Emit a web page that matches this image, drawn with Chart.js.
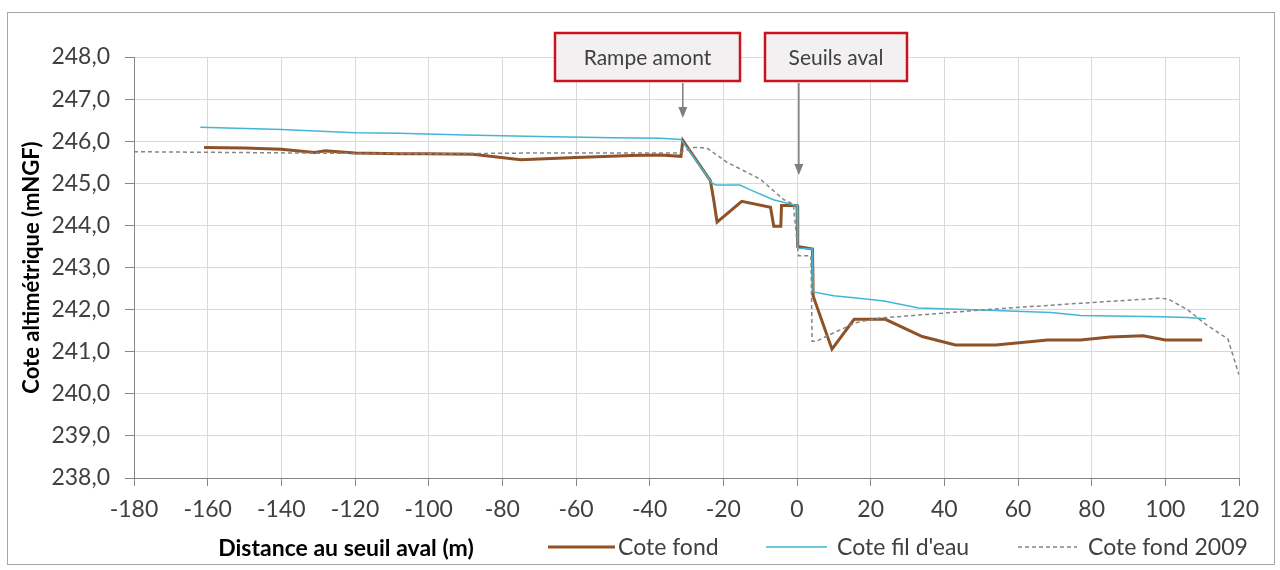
<!DOCTYPE html>
<html>
<head>
<meta charset="utf-8">
<script src="https://cdn.jsdelivr.net/npm/chart.js@4.4.1/dist/chart.umd.min.js"></script>
<style>
  html, body { margin: 0; padding: 0; background: #fff; }
  #wrap { width: 1280px; height: 570px; }
</style>
</head>
<body>
<div id="wrap"><canvas id="chart" width="1280" height="570"></canvas></div>
<script>
// profil en long
const fondX = [-161, -150, -140, -131, -128, -120, -108, -100, -88, -75, -60, -45, -37, -31.5, -31, -23.5, -22.6, -21.7, -15, -7.2, -6.3, -4.4, -4.2, 0, 0.2, 4.2, 4.4, 9.5, 15.5, 24, 34, 43, 54, 61, 68, 77, 85, 94, 100, 110];
const fondY = [245.85, 245.84, 245.81, 245.73, 245.77, 245.72, 245.70, 245.70, 245.69, 245.56, 245.61, 245.66, 245.67, 245.64, 246.02, 245.06, 244.6, 244.08, 244.57, 244.43, 243.98, 243.98, 244.47, 244.47, 243.5, 243.44, 242.32, 241.06, 241.77, 241.77, 241.36, 241.16, 241.16, 241.22, 241.28, 241.28, 241.35, 241.38, 241.28, 241.28];

const eauX = [-162, -140, -120, -108, -90, -70, -50, -37, -31.5, -23, -22, -15.5, -12.8, -6.4, -1, 0, 0.2, 4.2, 4.4, 10, 20, 24, 33, 50, 69, 77, 99, 106, 111];
const eauY = [246.33, 246.28, 246.2, 246.19, 246.15, 246.11, 246.08, 246.07, 246.04, 245.0, 244.96, 244.96, 244.85, 244.61, 244.49, 244.48, 243.46, 243.44, 242.42, 242.33, 242.24, 242.2, 242.04, 241.99, 241.93, 241.86, 241.83, 241.81, 241.78];

const fond2009X = [-180, -150, -120, -100, -70, -32, -28, -24.5, -19, -10, -3.7, -1, 0.4, 3.8, 4.1, 5.3, 10, 16, 22.5, 36, 50, 63, 77, 91, 99, 101, 106, 111, 117, 120];
const fond2009Y = [245.75, 245.73, 245.71, 245.7, 245.72, 245.72, 245.85, 245.84, 245.5, 245.1, 244.62, 244.5, 243.28, 243.28, 241.25, 241.25, 241.45, 241.69, 241.8, 241.89, 241.99, 242.07, 242.15, 242.23, 242.27, 242.24, 242.0, 241.65, 241.3, 240.45];

const seriesNames = ['Cote fond', "Cote fil d'eau", 'Cote fond 2009'];
const noteLabels = ['Rampe amont', 'Seuils aval'];
const noteAtX = [-31, 0.5];
const noteTipY = [246.55, 245.2];

const FONT = 'Lato, "Open Sans", sans-serif';
const BROWN = '#8f5228';
const BLUE = '#41b6d6';
const GREY = '#858585';

const toPoints = (xs, ys) => xs.map((x, i) => ({ x: x, y: ys[i] }));

// cadre exterieur
const framePlugin = {
  id: 'frame',
  beforeDraw(chart) {
    const ctx = chart.ctx;
    ctx.save();
    ctx.fillStyle = '#fff';
    ctx.fillRect(0, 0, chart.width, chart.height);
    ctx.strokeStyle = '#a6a6a6';
    ctx.lineWidth = 1;
    ctx.strokeRect(7.5, 12.5, 1267, 552);
    ctx.restore();
  }
};

// etiquettes + fleches, titre X et legende sur la meme ligne
const extrasPlugin = {
  id: 'extras',
  afterDraw(chart) {
    const ctx = chart.ctx;
    const xs = chart.scales.x, ys = chart.scales.y;
    const boxes = [[555, 33, 185, 48], [765, 33, 142, 48]];
    ctx.save();
    noteLabels.forEach((txt, i) => {
      const b = boxes[i];
      const ax = xs.getPixelForValue(noteAtX[i]);
      const tip = ys.getPixelForValue(noteTipY[i]);
      ctx.strokeStyle = '#7f7f7f';
      ctx.fillStyle = '#7f7f7f';
      ctx.lineWidth = 1.5;
      ctx.beginPath();
      ctx.moveTo(ax, b[1] + b[3] + 2);
      ctx.lineTo(ax, tip - 9);
      ctx.stroke();
      ctx.beginPath();
      ctx.moveTo(ax - 4.5, tip - 11);
      ctx.lineTo(ax + 4.5, tip - 11);
      ctx.lineTo(ax, tip);
      ctx.closePath();
      ctx.fill();

      ctx.fillStyle = '#f2f0f0';
      ctx.fillRect(b[0], b[1], b[2], b[3]);
      ctx.strokeStyle = '#c8141e';
      ctx.lineWidth = 2.5;
      ctx.strokeRect(b[0], b[1], b[2], b[3]);
      ctx.fillStyle = '#404040';
      ctx.font = '21px ' + FONT;
      ctx.textAlign = 'center';
      ctx.textBaseline = 'middle';
      ctx.fillText(txt, b[0] + b[2] / 2, b[1] + b[3] / 2 + 1);
    });

    ctx.fillStyle = '#000';
    ctx.font = 'bold 23px ' + FONT;
    ctx.textAlign = 'center';
    ctx.textBaseline = 'middle';
    ctx.fillText('Distance au seuil aval (m)', 346, 549);

    const ds = chart.data.datasets;
    const items = [[548, 615, 618], [766, 827, 837], [1018, 1077, 1088]];
    items.forEach((it, i) => {
      const d = ds[i];
      ctx.strokeStyle = d.borderColor;
      ctx.lineWidth = d.borderWidth;
      ctx.setLineDash(d.borderDash || []);
      ctx.beginPath();
      ctx.moveTo(it[0], 547);
      ctx.lineTo(it[1], 547);
      ctx.stroke();
      ctx.setLineDash([]);
      ctx.fillStyle = '#404040';
      ctx.font = '23px ' + FONT;
      ctx.textAlign = 'left';
      ctx.fillText(seriesNames[i], it[2], 548);
    });
    ctx.restore();
  }
};

new Chart(document.getElementById('chart'), {
  type: 'scatter',
  data: {
    datasets: [
      {
        label: seriesNames[0],
        data: toPoints(fondX, fondY),
        showLine: true,
        borderColor: BROWN,
        borderWidth: 3,
        pointRadius: 0,
        order: 3
      },
      {
        label: seriesNames[1],
        data: toPoints(eauX, eauY),
        showLine: true,
        borderColor: BLUE,
        borderWidth: 1.5,
        pointRadius: 0,
        order: 2
      },
      {
        label: seriesNames[2],
        data: toPoints(fond2009X, fond2009Y),
        showLine: true,
        borderColor: GREY,
        borderWidth: 1.5,
        borderDash: [4, 3],
        pointRadius: 0,
        order: 1
      }
    ]
  },
  options: {
    responsive: false,
    devicePixelRatio: 1,
    animation: false,
    layout: { padding: { left: 10, top: 57, right: 41, bottom: 0 } },
    plugins: {
      legend: { display: false },
      tooltip: { enabled: false }
    },
    scales: {
      x: {
        type: 'linear',
        min: -180,
        max: 120,
        afterFit: (s) => { s.height = 92; },
        ticks: { stepSize: 20, color: '#404040', font: { family: FONT, size: 23 }, padding: 10, maxRotation: 0 },
        grid: { color: '#d9d9d9', tickColor: '#868686', tickLength: 8 },
        border: { color: '#868686' }
      },
      y: {
        min: 238,
        max: 248,
        afterFit: (s) => { s.width = 124; },
        ticks: {
          stepSize: 1,
          color: '#404040',
          font: { family: FONT, size: 23 },
          padding: 15,
          callback: (v) => v.toFixed(1).replace('.', ',')
        },
        grid: { color: '#d9d9d9', tickColor: '#868686', tickLength: 9 },
        border: { color: '#868686' },
        title: {
          display: true,
          text: 'Cote altimétrique (mNGF)',
          color: '#000',
          font: { family: FONT, size: 22, weight: 'bold' },
          padding: { top: 9, bottom: 0 }
        }
      }
    }
  },
  plugins: [framePlugin, extrasPlugin]
});
</script>
</body>
</html>
